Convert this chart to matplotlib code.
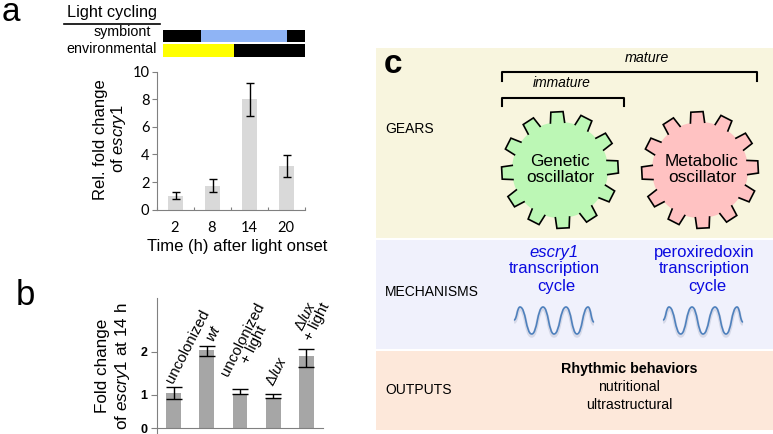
import numpy as np
import matplotlib
matplotlib.use("Agg")
import matplotlib.pyplot as plt
from matplotlib.patches import Rectangle, Polygon, Circle, PathPatch
from matplotlib.path import Path
from matplotlib.transforms import Affine2D

W, H = 773, 434
plt.rcParams['font.family'] = ['Liberation Sans', 'DejaVu Sans']
plt.rcParams['mathtext.fontset'] = 'custom'
plt.rcParams['mathtext.it'] = 'Liberation Sans:italic'
plt.rcParams['mathtext.rm'] = 'Liberation Sans'

# panel a
hours = ['2', '8', '14', '20']
fold_a = [1.0, 1.7, 8.0, 3.15]
err_low_a = [0.25, 0.45, 1.2, 0.8]
err_high_a = [0.25, 0.5, 1.2, 0.8]

# panel b
groups = ['uncolonized', 'wt', 'uncolonized\n+ light', r'$\Delta lux$', r'$\Delta lux$' + '\n+ light']
fold_b = [1.05, 2.04, 1.02, 0.91, 1.90]
err_low_b = [0.18, 0.14, 0.01, 0.0, 0.25]
err_high_b = [0.13, 0.11, 0.11, 0.12, 0.18]

# the printed axis of panel b is not evenly spaced: values and their heights in pixels
b_axis_values = [0, 1, 2, 3.5]
b_axis_px = [0, 33.3, 76, 140]

# wave extremes, pixels relative to the wave start
wave_x = [0, 6, 17.7, 29, 40, 52, 63, 74, 80]
wave_y = [0, -13, 14, -13, 14, -13, 14, -13, 2]

fig = plt.figure(figsize=(W / 100, H / 100), dpi=100)


def px_axes(x0, y_top, x1, y_bottom):
    return fig.add_axes([x0 / W, 1 - y_bottom / H, (x1 - x0) / W, (y_bottom - y_top) / H])


# whole figure overlay in pixel coordinates
bg = fig.add_axes([0, 0, 1, 1])
bg.set_xlim(0, W)
bg.set_ylim(H, 0)
bg.axis('off')

# light cycling bars
bg.add_patch(Rectangle((163.3, 30), 37.4, 12, fc='black'))
bg.add_patch(Rectangle((200.7, 30), 86.6, 12, fc='#8fb4f5'))
bg.add_patch(Rectangle((287.3, 30), 18, 12, fc='black'))
bg.add_patch(Rectangle((163.3, 44), 70.7, 13, fc='#ffff00'))
bg.add_patch(Rectangle((234, 44), 71.3, 13, fc='black'))
bg.plot([64, 160], [24, 24], color='black', lw=1.2)
bg.text(112, 13, 'Light cycling', fontsize=11.7, ha='center', va='center')
bg.text(151, 32, 'symbiont', fontsize=10.3, ha='right', va='center')
bg.text(157, 49, 'environmental', fontsize=10.3, ha='right', va='center')
bg.text(2, 21, 'a', fontsize=24, ha='left', va='baseline')
bg.text(16, 305, 'b', fontsize=25, ha='left', va='baseline')

# panel c backgrounds
bg.add_patch(Rectangle((376, 48), 397, 190, fc='#f8f5de'))
bg.add_patch(Rectangle((376, 240), 397, 109, fc='#f0f1fc'))
bg.add_patch(Rectangle((376, 351), 397, 79, fc='#fde8da'))
bg.text(384, 73, 'c', fontsize=24, weight='bold', ha='left', va='baseline')
bg.text(385, 129, 'GEARS', fontsize=10, va='center')
bg.text(385, 292, 'MECHANISMS', fontsize=10, va='center')
bg.text(385, 390, 'OUTPUTS', fontsize=10, va='center')

# brackets
bg.plot([502, 502, 757, 757], [81, 72, 72, 81], color='black', lw=1.5)
bg.plot([502, 502, 624, 624], [106, 98, 98, 106], color='black', lw=1.5)
bg.text(647, 58, 'mature', fontsize=10.3, style='italic', ha='center', va='center')
bg.text(562, 83, 'immature', fontsize=10, style='italic', ha='center', va='center')


def gear(cx, cy, face):
    r, r_out = 48, 58.5
    bg.add_patch(Circle((cx, cy), r, fc=face, ec='none'))
    for k in range(12):
        a = np.deg2rad(93 + k * 30)
        t = np.deg2rad([-8.5, -6, 6, 8.5])
        rad = np.array([r, r_out, r_out, r])
        xs = cx + rad * np.cos(a + t)
        ys = cy - rad * np.sin(a + t)
        bg.add_patch(Polygon(np.c_[xs, ys], closed=True, fc=face, ec='none'))
        bg.plot(xs, ys, color='black', lw=1.2, solid_joinstyle='miter')


gear(560, 170, '#bcf7b5')
gear(700, 170, '#ffc2c2')
bg.text(560, 161, 'Genetic', fontsize=12.4, ha='center', va='center')
bg.text(560, 177, 'oscillator', fontsize=12.4, ha='center', va='center')
bg.text(702, 161, 'Metabolic', fontsize=12.4, ha='center', va='center')
bg.text(702, 177, 'oscillator', fontsize=12.4, ha='center', va='center')

# mechanism text
blue = '#0a0ae0'
bg.text(554, 253, 'escry1', fontsize=12, style='italic', color=blue, ha='center', va='center')
bg.text(554, 269, 'transcription', fontsize=12, color=blue, ha='center', va='center')
bg.text(556, 286, 'cycle', fontsize=12, color=blue, ha='center', va='center')
bg.text(704, 253, 'peroxiredoxin', fontsize=12, color=blue, ha='center', va='center')
bg.text(704, 269, 'transcription', fontsize=12, color=blue, ha='center', va='center')
bg.text(707, 286, 'cycle', fontsize=12, color=blue, ha='center', va='center')


def wave(x0, y0):
    verts = [(x0 + wave_x[0], y0 + wave_y[0])]
    codes = [Path.MOVETO]
    for i in range(1, len(wave_x)):
        mid = (wave_x[i - 1] + wave_x[i]) / 2
        verts += [(x0 + mid, y0 + wave_y[i - 1]), (x0 + mid, y0 + wave_y[i]), (x0 + wave_x[i], y0 + wave_y[i])]
        codes += [Path.CURVE4] * 3
    p = Path(verts, codes)
    shadow = p.transformed(Affine2D().translate(0, 2))
    bg.add_patch(PathPatch(shadow, fc='none', ec='#d6d9e8', lw=2.5))
    bg.add_patch(PathPatch(p, fc='none', ec='#4f81bd', lw=1.2))


wave(514, 320)
wave(663, 320)

bg.text(629, 369, 'Rhythmic behaviors', fontsize=10.3, weight='bold', ha='center', va='center')
bg.text(629, 387, 'nutritional', fontsize=10.2, ha='center', va='center')
bg.text(629, 405, 'ultrastructural', fontsize=10.2, ha='center', va='center')

# panel a chart
ax = px_axes(157, 71.7, 305, 209.7)
ax.patch.set_alpha(0)
ax.bar(range(4), fold_a, width=0.4, color='#d9d9d9', yerr=[err_low_a, err_high_a], ecolor='black',
       error_kw=dict(capsize=3.2, elinewidth=1, capthick=1))
ax.set_xlim(-0.5, 3.5)
ax.set_ylim(0, 10)
ax.set_xticks([-0.5, 0.5, 1.5, 2.5, 3.5])
ax.set_xticklabels([])
ax.tick_params(axis='x', direction='in', length=2.5, color='#808080')
ax.set_yticks(range(0, 11, 2))
ax.set_yticklabels([str(v) for v in range(0, 11, 2)], family='Lato', fontsize=10.5)
ax.tick_params(axis='y', direction='out', length=3.5, color='#808080', pad=2)
for s in ['top', 'right']:
    ax.spines[s].set_visible(False)
for s in ['left', 'bottom']:
    ax.spines[s].set_color('#808080')
for i, h in enumerate(hours):
    bg.text(175 + i * 37, 228.5, h, family='Lato', fontsize=10.5, ha='center', va='center')
bg.text(237, 247, 'Time (h) after light onset', fontsize=12, ha='center', va='center')
bg.text(100, 140, 'Rel. fold change', fontsize=12, rotation=90, ha='center', va='center')
bg.text(119, 139, r'of $escry1$', fontsize=12, rotation=90, ha='center', va='center')

# panel b chart
bx = px_axes(157, 298, 323, 428.3)
bx.patch.set_alpha(0)
bx.set_yscale('function', functions=(lambda v: np.interp(v, b_axis_values, b_axis_px),
                                     lambda p: np.interp(p, b_axis_px, b_axis_values)))
bx.bar(range(5), fold_b, width=0.45, color='#a6a6a6', yerr=[err_low_b, err_high_b], ecolor='black',
       error_kw=dict(capsize=6, elinewidth=1, capthick=1))
bx.set_xlim(-0.5, 4.5)
bx.set_ylim(0, 3.26)
bx.set_xticks([])
bx.set_yticks([0, 1, 2])
bx.set_yticklabels(['0', '1', '2'], fontsize=9, weight='bold', va='center_baseline')
bx.minorticks_off()
bx.tick_params(axis='y', direction='out', length=4, color='#808080', pad=3)
for s in ['top', 'right']:
    bx.spines[s].set_visible(False)
for s in ['left', 'bottom']:
    bx.spines[s].set_color('#808080')
bg.plot([157, 157], [428, 433], color='#808080', lw=0.8)
bg.text(103, 366, 'Fold change', fontsize=12.3, rotation=90, ha='center', va='center')
bg.text(123, 366, r'of $escry1$ at 14 h', fontsize=12.3, rotation=90, ha='center', va='center')

label_pos = [(188, 346), (213, 334), (248, 342), (276, 371), (311, 319)]
for g, (lx, ly) in zip(groups, label_pos):
    bg.text(lx, ly, g, fontsize=10.8, rotation=63, ha='center', va='center', linespacing=0.85,
            style='italic' if g == 'wt' else 'normal', rotation_mode='anchor')

bg.set_zorder(-1)
fig.savefig('out.png', dpi=100)
